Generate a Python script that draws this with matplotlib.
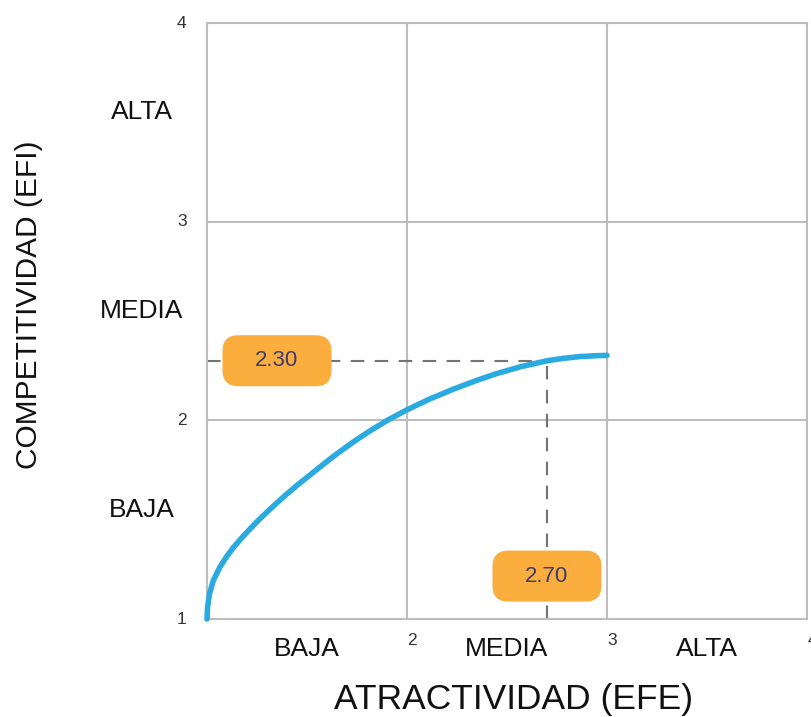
import matplotlib
matplotlib.use("Agg")
import matplotlib.pyplot as plt
from matplotlib.patches import FancyBboxPatch
from matplotlib.transforms import offset_copy

plt.rcParams['font.family'] = ['Liberation Sans', 'DejaVu Sans']

# Curve of the company position (EFE on x, EFI on y)
curve_x = [1.0, 1.003, 1.012, 1.032, 1.065, 1.098, 1.132, 1.182, 1.248,
           1.315, 1.382, 1.448, 1.515, 1.607, 1.665, 1.740, 1.815, 1.905,
           2.0, 2.115, 2.232, 2.348, 2.448, 2.565, 2.70, 2.782, 2.865,
           2.94, 3.0]
curve_y = [1.0, 1.06, 1.125, 1.195, 1.262, 1.314, 1.360, 1.418, 1.488,
           1.553, 1.614, 1.671, 1.725, 1.799, 1.843, 1.897, 1.947, 2.002,
           2.053, 2.108, 2.157, 2.201, 2.235, 2.269, 2.30, 2.312, 2.321,
           2.325, 2.327]

# Highlighted point
efe_value = 2.70
efi_value = 2.30

levels = ["BAJA", "MEDIA", "ALTA"]
level_centers = [1.5, 2.5, 3.5]
x_ticks = [2, 3, 4]
y_ticks = [1, 2, 3, 4]

fig = plt.figure(figsize=(8.12, 7.17), dpi=100)
ax = fig.add_axes([207 / 812, 1 - 619 / 717, 600 / 812, 596 / 717])
ax.set_xlim(1, 4)
ax.set_ylim(1, 4)

grid_color = "#bdbdbd"
for v in [2, 3]:
    ax.axvline(v, color=grid_color, lw=1.5, zorder=1)
    ax.axhline(v, color=grid_color, lw=1.5, zorder=1)
for s in ax.spines.values():
    s.set_color(grid_color)
    s.set_linewidth(1.5)

ax.set_xticks([])
ax.set_yticks([])

# Dashed guides to the highlighted point
guide = dict(color="#737373", lw=1.5, dashes=(6.5, 5), zorder=2)
ax.plot([1, efe_value], [efi_value, efi_value], **guide)
ax.plot([efe_value, efe_value], [1, efi_value], **guide)

# Curve
ax.plot(curve_x, curve_y, color="#29abe2", lw=4, solid_capstyle="round",
        solid_joinstyle="round", zorder=3, clip_on=False)

# Value badges
box_w, box_h = 0.545, 0.257
orange = "#fbad3e"
text_color = "#3c3c6e"


def badge(cx, cy, text):
    p = FancyBboxPatch((cx - box_w / 2, cy - box_h / 2), box_w, box_h,
                       boxstyle="round,pad=0,rounding_size=0.08",
                       fc=orange, ec="none", zorder=4, clip_on=False)
    ax.add_patch(p)
    ax.text(cx, cy, text, ha="center", va="center", fontsize=16,
            color=text_color, zorder=5)


badge(1.35, efi_value, f"{efi_value:.2f}")
badge(efe_value, 1.216, f"{efe_value:.2f}")

# Numeric tick labels
for v in y_ticks:
    ax.text(-0.042, (v - 1) / 3, str(v), transform=ax.transAxes,
            ha="center", va="center", fontsize=12.5, color="#333333")
tr = offset_copy(ax.transData, fig=fig, x=5, y=0, units="dots")
for v in x_ticks:
    ax.text(v, 0.89, str(v), transform=tr, ha="center", va="center",
            fontsize=12.5, color="#333333", clip_on=False)

# Level labels
for lab, c in zip(levels, level_centers):
    ax.text(c, 0.849, lab, ha="center", va="center", fontsize=19,
            color="#111111", clip_on=False)
    ax.text(0.675, c + 0.05, lab, ha="center", va="center", fontsize=19,
            color="#111111", clip_on=False)

# Axis titles
fig.text(514 / 812, 1 - 700 / 717, "ATRACTIVIDAD (EFE)", ha="center",
         va="center", fontsize=25.5, color="#111111")
fig.text(29 / 812, 1 - 305 / 717, "COMPETITIVIDAD (EFI)", ha="center",
         va="center", rotation=90, fontsize=21.5, color="#111111")

fig.savefig("out.png", dpi=100, facecolor="white")
